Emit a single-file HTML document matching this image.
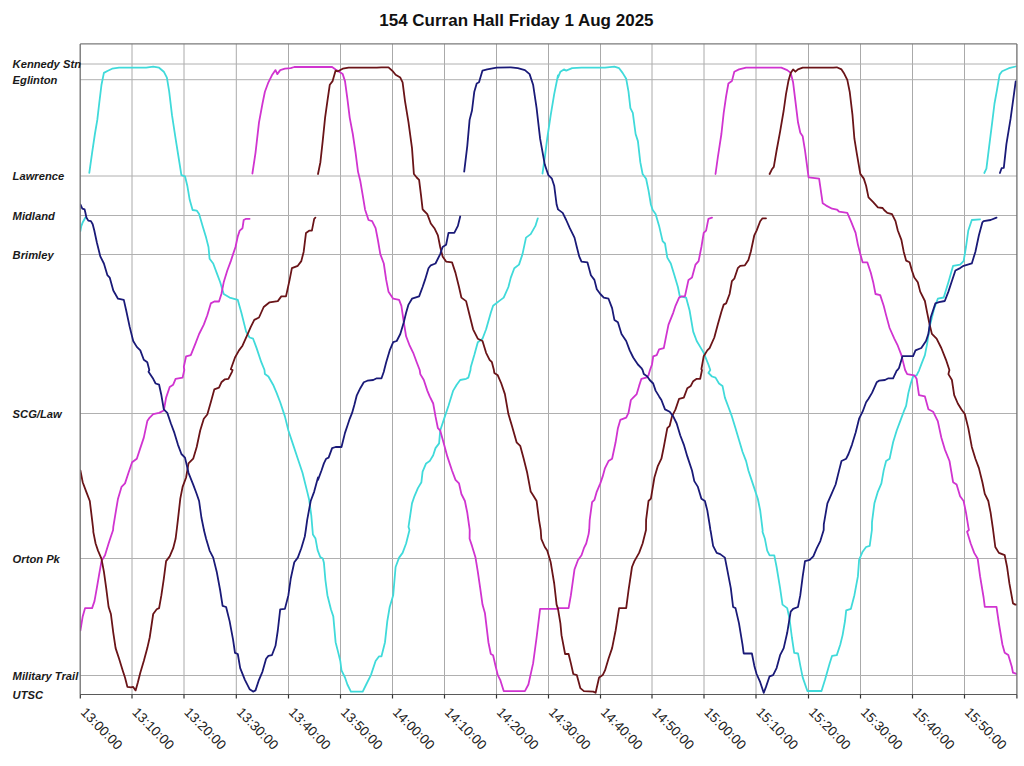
<!DOCTYPE html>
<html><head><meta charset="utf-8"><style>
html,body{margin:0;padding:0;background:#fff;}
svg{display:block;}
.lab{font-family:"Liberation Sans",sans-serif;font-weight:bold;font-style:italic;font-size:11.2px;fill:#1a1a1a;}
.tl{font-family:"Liberation Sans",sans-serif;font-size:13.5px;fill:#222;}
.title{font-family:"Liberation Sans",sans-serif;font-weight:bold;font-size:17px;fill:#111;}
</style></head><body>
<svg width="1024" height="766" viewBox="0 0 1024 766">
<rect x="0" y="0" width="1024" height="766" fill="#fff"/>
<line x1="132.00" y1="43.9" x2="132.00" y2="694.5" stroke="#aaa" stroke-width="1"/>
<line x1="184.00" y1="43.9" x2="184.00" y2="694.5" stroke="#aaa" stroke-width="1"/>
<line x1="236.30" y1="43.9" x2="236.30" y2="694.5" stroke="#aaa" stroke-width="1"/>
<line x1="288.50" y1="43.9" x2="288.50" y2="694.5" stroke="#aaa" stroke-width="1"/>
<line x1="340.50" y1="43.9" x2="340.50" y2="694.5" stroke="#aaa" stroke-width="1"/>
<line x1="392.50" y1="43.9" x2="392.50" y2="694.5" stroke="#aaa" stroke-width="1"/>
<line x1="444.50" y1="43.9" x2="444.50" y2="694.5" stroke="#aaa" stroke-width="1"/>
<line x1="496.50" y1="43.9" x2="496.50" y2="694.5" stroke="#aaa" stroke-width="1"/>
<line x1="548.50" y1="43.9" x2="548.50" y2="694.5" stroke="#aaa" stroke-width="1"/>
<line x1="600.50" y1="43.9" x2="600.50" y2="694.5" stroke="#aaa" stroke-width="1"/>
<line x1="652.00" y1="43.9" x2="652.00" y2="694.5" stroke="#aaa" stroke-width="1"/>
<line x1="704.00" y1="43.9" x2="704.00" y2="694.5" stroke="#aaa" stroke-width="1"/>
<line x1="756.00" y1="43.9" x2="756.00" y2="694.5" stroke="#aaa" stroke-width="1"/>
<line x1="808.50" y1="43.9" x2="808.50" y2="694.5" stroke="#aaa" stroke-width="1"/>
<line x1="860.50" y1="43.9" x2="860.50" y2="694.5" stroke="#aaa" stroke-width="1"/>
<line x1="912.50" y1="43.9" x2="912.50" y2="694.5" stroke="#aaa" stroke-width="1"/>
<line x1="964.50" y1="43.9" x2="964.50" y2="694.5" stroke="#aaa" stroke-width="1"/>
<line x1="80.2" y1="64.0" x2="1016.9" y2="64.0" stroke="#b0b0b0" stroke-width="1"/>
<line x1="80.2" y1="79.7" x2="1016.9" y2="79.7" stroke="#b0b0b0" stroke-width="1"/>
<line x1="80.2" y1="176.0" x2="1016.9" y2="176.0" stroke="#b0b0b0" stroke-width="1"/>
<line x1="80.2" y1="215.5" x2="1016.9" y2="215.5" stroke="#b0b0b0" stroke-width="1"/>
<line x1="80.2" y1="254.5" x2="1016.9" y2="254.5" stroke="#b0b0b0" stroke-width="1"/>
<line x1="80.2" y1="413.5" x2="1016.9" y2="413.5" stroke="#b0b0b0" stroke-width="1"/>
<line x1="80.2" y1="558.5" x2="1016.9" y2="558.5" stroke="#b0b0b0" stroke-width="1"/>
<line x1="80.2" y1="675.5" x2="1016.9" y2="675.5" stroke="#b0b0b0" stroke-width="1"/>
<clipPath id="pc"><rect x="80.2" y="43.9" width="936.7" height="650.6"/></clipPath><g clip-path="url(#pc)">
<path d="M80.4,231.0 L81.2,226.3 L82.8,222.2 L85.4,217.5" fill="none" stroke="#40dada" stroke-width="1.8" stroke-linejoin="round" stroke-linecap="round"/>
<path d="M89.3,172.8 L92.1,152.8 L94.9,134.0 L97.3,119.9 L99.2,103.5 L101.5,84.7 L103.9,72.9 L107.4,71.0 L112.1,68.7 L119.1,67.7 L132.1,67.7 L146.2,67.7 L153.2,66.6 L159.1,67.7 L163.8,71.7 L166.9,77.6 L169.2,91.7 L172.0,115.2 L175.6,138.7 L178.6,157.5 L181.4,175.2 L185.0,176.3 L187.3,185.7 L189.7,199.8 L192.6,210.0 L196.7,210.6 L199.1,214.1 L202.6,225.9 L206.1,237.6 L208.5,247.0 L209.6,258.8 L213.2,263.5 L216.7,272.9 L220.2,282.3 L223.7,294.0 L229.6,297.6 L237.8,299.9 L241.4,312.8 L246.1,331.6 L249.6,337.5 L253.1,338.7 L256.6,348.1 L261.3,362.2 L264.5,370.0 L264.9,374.1 L268.4,376.5 L273.1,384.7 L276.6,392.9 L280.2,402.3 L284.9,416.4 L288.4,430.5 L293.1,444.6 L297.8,458.7 L302.5,472.8 L307.2,491.6 L309.2,500.0 L311.3,515.7 L312.9,534.5 L315.5,538.6 L317.6,550.1 L320.2,556.9 L322.8,558.5 L323.9,562.7 L325.4,580.0 L327.4,595.2 L330.9,609.3 L333.3,616.4 L335.6,642.2 L338.0,651.6 L340.3,661.0 L341.5,670.4 L345.0,677.5 L347.4,684.5 L350.9,691.6 L362.7,691.6 L366.2,684.5 L370.9,675.1 L375.6,661.0 L379.1,656.3 L381.5,656.3 L385.0,642.2 L387.3,621.1 L389.7,607.0 L393.2,595.2 L395.6,567.0 L399.1,557.6 L402.6,552.9 L406.1,543.5 L409.5,530.0 L408.5,526.9 L412.0,503.4 L414.4,496.3 L417.9,488.1 L421.4,482.2 L422.6,471.7 L426.1,463.4 L429.7,461.1 L433.2,455.2 L435.5,448.1 L439.1,443.4 L440.2,430.5 L444.9,416.4 L448.5,405.8 L453.2,390.6 L456.7,384.7 L460.2,380.0 L466.1,378.8 L468.4,377.6 L470.5,370.0 L470.8,366.9 L474.3,355.1 L477.8,342.2 L482.5,338.7 L486.1,329.3 L490.8,312.8 L493.1,305.8 L499.0,301.1 L503.7,297.6 L508.4,287.0 L510.8,277.6 L514.3,268.2 L519.0,264.6 L522.5,254.1 L526.0,237.6 L530.7,234.1 L535.4,225.9 L537.8,218.3" fill="none" stroke="#40dada" stroke-width="1.8" stroke-linejoin="round" stroke-linecap="round"/>
<path d="M542.5,173.5 L544.8,157.5 L547.2,138.7 L550.7,115.2 L554.2,94.1 L558.0,75.3 L558.0,77.6 L560.4,71.7 L563.9,69.4 L566.2,70.6 L572.1,68.2 L581.5,67.7 L605.0,67.7 L614.4,66.6 L619.1,68.2 L622.6,72.9 L626.2,78.8 L628.5,91.7 L630.4,108.2 L632.8,112.9 L635.6,134.0 L637.9,141.1 L640.3,162.2 L642.6,174.0 L646.1,178.7 L648.5,190.4 L650.9,204.5 L652.7,210.0 L655.6,214.1 L659.1,225.9 L662.6,241.1 L665.0,243.5 L667.3,257.6 L670.8,263.5 L674.4,275.2 L677.9,287.0 L679.8,296.4 L686.1,297.6 L689.6,310.5 L693.2,331.6 L696.7,341.0 L700.2,346.9 L703.7,352.8 L708.4,364.5 L710.3,370.0 L708.4,372.9 L712.0,376.5 L715.5,377.6 L719.0,383.5 L722.5,385.9 L724.9,397.6 L728.4,407.0 L731.9,416.4 L735.5,428.2 L739.0,439.9 L742.5,451.7 L746.1,461.1 L748.4,470.5 L753.1,484.6 L757.8,498.7 L760.2,510.4 L762.5,529.2 L762.7,530.0 L762.5,531.8 L764.9,538.8 L767.2,550.6 L769.6,555.3 L774.3,555.3 L776.6,567.0 L780.1,588.2 L782.5,604.6 L787.2,608.1 L789.5,618.7 L791.9,637.5 L794.2,652.8 L798.0,653.5 L798.0,653.4 L800.3,665.7 L802.7,677.4 L807.4,691.0 L821.5,691.0 L825.0,679.8 L829.7,663.3 L832.1,655.8 L836.8,655.1 L840.3,644.5 L842.6,635.1 L845.0,621.0 L846.2,610.4 L850.9,608.8 L854.4,595.2 L857.9,576.4 L859.1,559.9 L862.6,551.7 L866.1,547.0 L869.7,545.8 L871.9,530.0 L872.0,522.1 L874.4,503.3 L877.9,491.6 L881.4,483.3 L883.7,470.4 L886.1,461.0 L889.6,458.7 L893.1,442.2 L896.7,430.5 L900.2,421.1 L903.7,411.7 L906.1,405.8 L908.4,392.9 L910.8,383.5 L913.1,376.4 L916.6,375.3 L919.0,370.6 L919.2,370.0 L921.3,364.4 L924.9,355.1 L927.2,343.3 L929.6,326.9 L934.3,308.1 L937.8,298.7 L943.7,297.5 L948.4,282.2 L953.1,265.8 L960.1,264.6 L963.6,261.1 L966.0,247.0 L968.3,230.5 L971.8,220.0 L980.1,219.3" fill="none" stroke="#40dada" stroke-width="1.8" stroke-linejoin="round" stroke-linecap="round"/>
<path d="M984.3,173.0 L986.4,168.7 L988.6,150.9 L992.0,123.8 L994.5,103.5 L997.0,89.9 L999.6,74.6 L1002.1,71.3 L1008.9,68.2 L1015.7,66.5" fill="none" stroke="#40dada" stroke-width="1.8" stroke-linejoin="round" stroke-linecap="round"/>
<path d="M80.4,630.5 L82.7,616.4 L85.1,608.1 L92.1,608.1 L94.5,601.1 L96.8,588.2 L99.2,574.1 L101.5,561.1 L105.0,555.3 L108.6,543.5 L110.9,536.5 L113.1,530.0 L113.3,526.9 L115.6,512.8 L118.0,498.7 L121.5,486.9 L125.0,483.4 L128.5,472.8 L132.1,462.3 L136.8,458.7 L140.3,448.1 L143.8,437.6 L147.3,421.1 L149.7,417.6 L153.2,414.1 L159.1,412.9 L163.8,410.5 L166.1,397.6 L169.7,387.0 L173.2,384.7 L175.6,378.8 L182.6,377.6 L184.3,370.0 L183.8,366.9 L186.1,356.3 L190.8,355.1 L195.5,343.4 L199.1,334.0 L203.8,324.6 L207.3,315.2 L210.8,303.4 L214.3,301.5 L219.0,301.5 L221.4,294.0 L223.7,282.3 L227.3,270.5 L230.8,261.1 L233.1,254.1 L235.5,247.0 L237.8,236.4 L239.7,230.6 L242.5,228.2 L243.7,220.0 L246.1,218.8 L249.6,218.8" fill="none" stroke="#d034d0" stroke-width="1.8" stroke-linejoin="round" stroke-linecap="round"/>
<path d="M252.4,173.5 L255.5,152.8 L259.0,122.3 L262.5,103.5 L264.9,91.7 L268.4,82.3 L271.9,75.3 L275.5,70.1 L277.3,74.1 L280.2,70.1 L284.9,68.7 L290.7,68.2 L294.3,67.0 L303.7,67.0 L318.0,67.0 L318.0,67.0 L332.1,67.0 L335.6,69.4 L339.2,71.7 L342.7,74.1 L345.0,81.1 L347.4,98.8 L349.7,117.6 L352.8,134.0 L355.6,152.8 L358.0,171.6 L360.3,181.0 L362.7,195.1 L365.0,209.2 L365.2,210.0 L368.5,220.0 L372.1,221.2 L375.6,228.2 L377.9,240.0 L380.3,254.1 L383.8,263.5 L386.2,279.9 L388.5,291.7 L393.2,298.7 L399.1,299.9 L401.4,305.8 L403.8,322.2 L406.1,336.3 L409.7,345.7 L413.2,352.8 L416.7,362.2 L419.7,370.0 L420.3,374.1 L423.8,380.0 L427.3,390.6 L429.7,396.4 L433.2,403.5 L435.5,416.4 L437.9,428.2 L440.2,430.5 L443.8,443.4 L447.3,456.4 L452.0,470.5 L455.5,479.9 L459.0,483.4 L461.4,494.0 L464.9,501.0 L467.3,512.8 L469.6,529.2 L469.7,530.0 L469.6,538.8 L472.0,545.9 L475.5,557.6 L477.8,571.7 L480.2,588.2 L482.5,604.6 L484.9,612.9 L488.4,642.2 L490.8,654.0 L493.1,655.2 L495.5,665.7 L497.8,675.1 L500.2,679.8 L503.7,691.1 L524.9,691.1 L528.4,684.5 L533.1,663.4 L536.6,637.5 L540.1,608.9 L558.0,608.9 L558.0,608.1 L568.6,608.1 L570.9,595.2 L574.5,569.4 L578.0,560.0 L581.5,555.3 L583.9,548.2 L586.2,543.5 L588.6,534.1 L589.2,530.0 L589.7,519.8 L592.1,502.2 L594.4,499.9 L596.8,491.6 L600.3,483.4 L602.7,476.4 L605.0,468.1 L608.5,461.1 L612.1,458.7 L615.6,442.3 L617.9,428.2 L620.3,419.9 L626.2,417.6 L628.5,412.9 L630.9,400.0 L633.2,397.6 L636.7,394.1 L639.1,385.9 L641.4,378.8 L646.1,377.6 L648.5,375.3 L650.0,370.0 L652.0,364.5 L653.2,356.3 L656.7,355.1 L659.1,349.3 L663.8,348.1 L666.1,336.3 L668.5,324.6 L673.2,312.8 L675.5,305.8 L679.1,297.6 L681.4,296.4 L684.9,296.4 L688.5,279.9 L692.0,277.6 L695.5,264.6 L698.6,261.1 L701.4,247.0 L703.7,232.9 L706.1,230.6 L708.4,218.8 L712.0,217.6" fill="none" stroke="#d034d0" stroke-width="1.8" stroke-linejoin="round" stroke-linecap="round"/>
<path d="M715.5,174.0 L717.8,157.5 L721.4,134.0 L723.7,112.9 L726.1,96.4 L728.4,83.5 L731.9,81.1 L734.3,71.7 L739.0,69.4 L746.1,67.7 L781.3,67.7 L787.2,70.1 L790.7,72.9 L793.1,82.3 L795.4,101.1 L798.0,122.3 L800.3,132.8 L802.7,136.3 L805.0,150.4 L808.6,177.4 L819.1,178.6 L822.7,203.3 L826.2,205.6 L832.1,208.7 L836.8,209.6 L837.4,210.0 L839.1,211.7 L847.3,212.9 L850.9,221.1 L855.6,232.9 L857.9,244.6 L860.3,254.0 L862.6,262.3 L867.3,262.3 L870.8,272.8 L873.2,282.2 L875.5,294.0 L880.2,295.1 L883.7,305.7 L886.1,315.1 L889.6,328.0 L894.3,338.6 L897.8,345.7 L901.4,355.1 L903.7,364.4 L905.1,370.0 L907.2,374.1 L914.3,375.3 L916.6,378.8 L919.0,395.2 L924.9,396.4 L928.4,409.3 L933.1,411.7 L937.8,421.1 L941.3,437.5 L944.8,449.3 L949.5,461.0 L953.1,482.2 L956.6,484.5 L960.1,496.3 L963.6,501.0 L966.0,512.7 L968.3,526.8 L968.9,530.0 L967.1,531.7 L970.7,543.5 L974.2,552.9 L977.7,558.8 L980.1,576.4 L983.6,597.5 L984.8,606.9 L996.5,606.9 L998.9,623.4 L1002.4,644.5 L1004.7,652.7 L1008.3,655.1 L1011.8,666.8 L1013.0,672.7 L1016.5,673.9" fill="none" stroke="#d034d0" stroke-width="1.8" stroke-linejoin="round" stroke-linecap="round"/>
<path d="M80.4,470.5 L82.7,482.2 L86.2,491.6 L89.8,501.0 L92.1,519.8 L93.3,530.0 L93.3,531.8 L95.6,543.5 L98.0,550.6 L101.5,558.8 L103.9,571.7 L106.2,588.2 L108.6,607.0 L110.9,614.0 L113.3,632.8 L115.6,648.1 L119.1,658.7 L122.7,670.4 L125.0,677.5 L127.4,686.9 L130.9,687.4 L133.2,686.9 L135.6,690.4 L137.9,682.2 L140.3,672.8 L143.8,661.0 L147.3,648.1 L149.7,637.5 L153.2,614.0 L156.7,609.3 L159.1,608.1 L161.4,595.2 L163.8,578.8 L166.1,561.1 L169.7,556.4 L173.2,548.2 L175.6,538.8 L176.7,530.0 L177.9,519.8 L180.3,498.7 L182.6,486.9 L186.1,477.5 L188.5,463.4 L193.2,458.7 L196.7,447.0 L200.2,430.5 L203.8,418.8 L207.3,414.5 L210.8,402.3 L214.3,389.4 L219.0,387.7 L221.4,382.3 L224.9,379.3 L228.4,378.8 L232.0,371.8 L232.6,370.0 L230.8,369.2 L235.0,357.5 L239.0,350.4 L242.5,345.7 L247.2,335.2 L250.8,326.9 L254.3,319.9 L259.0,317.5 L263.7,307.0 L269.6,302.3 L277.8,301.1 L281.3,296.4 L286.0,296.4 L289.6,279.9 L291.9,268.2 L297.8,265.8 L301.3,261.1 L303.7,251.7 L306.0,232.9 L309.5,230.6 L311.9,230.6 L314.2,218.8 L315.4,217.6" fill="none" stroke="#6a1418" stroke-width="1.8" stroke-linejoin="round" stroke-linecap="round"/>
<path d="M318.0,174.0 L320.4,162.2 L322.7,141.1 L325.1,117.6 L327.4,101.1 L329.8,84.7 L332.6,81.1 L335.6,70.6 L338.0,71.3 L342.7,68.7 L348.6,67.7 L376.8,67.7 L381.5,67.3 L388.5,67.3 L393.2,71.7 L395.6,74.8 L400.3,77.6 L402.6,82.3 L405.0,101.1 L408.5,122.3 L412.0,148.1 L413.9,174.0 L416.7,177.5 L419.1,179.9 L421.0,195.1 L422.6,209.2 L423.2,210.0 L427.3,214.1 L430.8,223.5 L434.4,228.2 L437.9,235.3 L440.2,247.0 L442.6,256.4 L446.1,261.6 L452.0,262.3 L455.5,272.9 L459.0,287.0 L461.4,297.6 L466.1,301.1 L469.6,315.2 L473.1,329.3 L477.8,338.7 L482.5,341.0 L486.1,352.8 L489.6,359.8 L491.9,362.2 L493.9,370.0 L494.3,372.9 L497.8,375.3 L501.3,383.5 L504.9,394.1 L508.4,414.1 L511.9,425.8 L516.6,442.3 L520.2,445.8 L523.7,458.7 L527.2,472.8 L530.7,491.6 L533.1,495.2 L536.6,501.0 L539.0,519.8 L540.7,530.0 L541.3,538.8 L544.8,547.0 L547.2,550.6 L550.7,562.3 L554.2,583.5 L556.6,604.6 L558.0,608.9 L558.0,608.9 L560.4,623.4 L561.5,635.2 L565.1,654.0 L568.6,654.0 L570.9,663.4 L573.3,674.0 L576.8,675.1 L580.3,688.1 L583.9,691.1 L593.3,691.6 L595.6,692.8 L599.1,677.5 L602.7,675.1 L605.0,670.4 L608.5,658.7 L612.1,648.1 L615.6,630.5 L619.1,608.1 L626.2,608.1 L628.5,590.5 L632.0,567.0 L634.4,561.1 L639.1,552.9 L642.6,543.5 L646.0,530.0 L646.1,519.8 L648.5,501.0 L650.9,498.7 L654.4,477.5 L657.9,465.8 L661.4,458.7 L663.8,447.0 L667.3,428.2 L669.7,425.8 L672.0,416.4 L675.5,409.4 L679.1,398.8 L683.8,397.6 L687.3,388.2 L690.8,385.9 L693.2,381.2 L696.7,378.8 L700.2,378.8 L702.0,370.0 L701.4,369.2 L703.7,356.3 L707.3,350.4 L709.6,348.1 L714.3,337.5 L717.8,324.6 L721.4,311.7 L723.7,304.6 L726.1,303.4 L729.6,294.0 L731.9,281.1 L734.3,278.7 L737.8,268.2 L740.2,265.8 L744.9,265.3 L748.4,259.9 L750.8,251.7 L754.3,235.3 L756.6,230.6 L760.2,221.2 L762.5,218.3 L766.0,218.3" fill="none" stroke="#6a1418" stroke-width="1.8" stroke-linejoin="round" stroke-linecap="round"/>
<path d="M769.6,174.0 L771.9,169.3 L773.8,166.9 L776.6,150.5 L780.1,131.7 L783.7,110.5 L786.0,94.1 L788.4,81.1 L790.7,72.9 L793.1,69.4 L795.4,71.7 L798.0,69.4 L798.0,69.4 L802.7,67.7 L812.1,67.7 L833.2,67.7 L836.8,67.3 L841.5,69.4 L843.8,72.9 L847.3,79.9 L849.7,91.7 L852.5,115.2 L854.4,138.7 L856.7,152.8 L860.3,173.9 L863.8,178.6 L866.1,185.7 L868.5,197.4 L873.2,202.1 L877.9,207.3 L882.6,208.0 L884.1,210.0 L887.3,212.9 L892.0,214.1 L895.5,221.1 L897.8,230.5 L901.4,239.9 L903.7,251.7 L906.1,260.6 L909.6,262.3 L911.9,270.5 L914.3,277.5 L917.8,282.2 L920.2,291.6 L924.9,301.0 L927.2,312.8 L929.6,324.5 L931.9,333.9 L936.6,338.6 L941.3,348.0 L946.0,359.8 L949.4,370.0 L948.4,374.1 L951.9,380.0 L954.2,395.2 L957.8,403.5 L961.3,409.3 L964.8,414.0 L968.3,428.1 L971.8,446.9 L975.4,458.7 L978.9,468.1 L982.4,482.2 L984.8,493.9 L988.3,501.0 L990.6,512.7 L993.0,529.1 L993.1,530.0 L995.3,547.0 L998.9,552.9 L1004.7,555.2 L1007.1,567.0 L1009.4,583.4 L1013.0,603.4 L1015.3,604.6 L1017.7,604.6" fill="none" stroke="#6a1418" stroke-width="1.8" stroke-linejoin="round" stroke-linecap="round"/>
<path d="M80.4,204.4 L82.3,208.6 L84.6,209.4 L85.4,212.8 L86.4,217.5 L88.3,220.6 L90.9,221.1 L92.7,224.2 L94.3,230.5 L96.8,242.3 L100.3,256.4 L103.9,263.5 L107.4,275.2 L109.7,277.6 L113.3,290.5 L118.0,298.7 L123.8,299.9 L126.2,310.5 L129.7,326.9 L133.2,341.0 L136.8,346.9 L140.3,350.4 L143.8,359.8 L147.3,362.2 L149.3,370.0 L148.5,371.8 L153.2,378.8 L155.6,383.5 L159.1,384.7 L161.4,395.3 L163.8,409.4 L167.3,412.9 L170.9,423.5 L174.4,432.9 L177.9,444.6 L181.4,454.0 L185.0,457.6 L188.5,472.8 L193.2,484.6 L196.7,494.0 L199.1,501.0 L201.4,517.5 L203.8,529.2 L203.9,530.0 L206.1,538.8 L209.6,550.6 L213.2,557.6 L216.7,571.7 L220.2,590.5 L222.6,605.8 L226.1,607.0 L229.6,621.1 L233.1,639.9 L235.0,652.8 L237.8,654.0 L240.2,668.1 L244.9,679.8 L249.6,689.2 L253.1,691.6 L255.5,690.4 L259.0,679.8 L262.5,671.6 L266.1,658.7 L268.4,655.9 L271.9,655.2 L275.5,645.8 L277.8,630.5 L280.2,609.3 L284.9,608.9 L288.4,595.2 L290.7,578.8 L294.3,562.3 L297.8,557.6 L301.3,548.2 L304.8,536.5 L305.8,530.0 L307.2,519.8 L310.7,501.0 L314.2,491.6 L318.0,477.5 L318.0,479.9 L321.5,470.5 L323.9,463.4 L326.2,458.7 L328.6,457.6 L332.1,448.1 L335.6,447.0 L341.5,447.0 L345.0,432.9 L347.4,425.8 L349.7,418.8 L352.1,412.9 L354.4,404.7 L356.8,395.3 L360.3,388.2 L363.8,382.3 L367.4,380.7 L373.2,380.0 L376.8,378.3 L381.5,378.3 L383.8,371.8 L384.2,370.0 L386.2,362.2 L389.7,350.4 L393.2,342.2 L396.7,341.0 L400.3,334.0 L403.8,322.2 L406.1,312.8 L408.5,304.6 L412.0,298.7 L419.1,296.4 L422.6,287.0 L425.0,279.9 L428.5,268.2 L430.8,265.3 L435.5,263.5 L440.2,254.1 L442.6,247.0 L446.1,244.7 L448.5,232.9 L454.3,232.9 L457.9,225.9 L460.2,216.5" fill="none" stroke="#1a1a78" stroke-width="1.8" stroke-linejoin="round" stroke-linecap="round"/>
<path d="M464.2,171.6 L467.3,145.8 L469.6,119.9 L472.0,110.5 L474.3,91.7 L476.7,83.5 L479.0,82.3 L482.5,70.6 L487.2,69.4 L496.6,67.7 L510.8,67.3 L517.8,68.2 L524.9,70.1 L529.6,74.1 L533.1,84.7 L536.6,108.2 L540.1,138.7 L544.8,164.6 L548.4,175.2 L551.9,178.7 L554.2,185.7 L556.6,204.5 L558.0,209.2 L558.0,209.4 L562.7,212.9 L566.2,220.0 L569.8,228.2 L574.5,237.6 L576.8,247.0 L579.2,256.4 L581.5,261.6 L587.4,262.3 L590.9,275.2 L594.4,279.9 L596.8,289.3 L600.3,294.0 L603.8,297.6 L608.5,298.7 L612.1,308.1 L614.4,319.9 L617.9,322.2 L621.5,334.0 L626.2,341.0 L629.7,350.4 L633.2,357.5 L637.9,364.5 L641.4,368.1 L642.6,370.0 L643.8,374.1 L647.3,376.5 L649.7,380.0 L653.2,383.5 L655.6,390.6 L659.1,396.4 L661.4,400.0 L665.0,409.4 L669.7,411.7 L673.2,416.4 L676.7,423.5 L680.2,435.2 L683.8,444.6 L687.3,456.4 L692.0,470.5 L694.3,481.1 L697.9,486.9 L701.4,498.7 L704.9,501.0 L707.3,510.4 L709.6,524.5 L710.4,530.0 L710.8,531.8 L713.1,545.9 L716.7,552.9 L720.2,554.1 L724.9,557.6 L727.2,569.4 L730.8,588.2 L733.1,607.0 L735.5,608.1 L739.0,623.4 L742.5,644.6 L743.7,653.5 L751.9,653.5 L754.3,665.7 L756.6,674.0 L760.2,682.2 L763.7,692.8 L766.0,686.9 L769.6,676.3 L773.1,675.1 L776.6,668.1 L780.1,655.2 L783.7,648.1 L787.2,632.8 L789.5,618.7 L790.7,611.7 L793.1,608.9 L798.0,607.0 L798.0,606.9 L800.3,595.2 L802.7,576.4 L805.0,561.1 L809.7,559.9 L813.3,556.4 L816.8,548.2 L820.3,541.1 L823.7,530.0 L823.8,524.4 L827.4,503.3 L832.1,492.7 L835.6,484.5 L839.1,470.4 L841.5,461.0 L846.2,458.7 L848.5,454.0 L852.0,444.6 L855.6,432.8 L859.1,418.7 L862.6,411.7 L866.1,402.3 L868.5,398.8 L872.0,392.9 L876.7,382.3 L879.0,380.7 L884.9,380.0 L888.4,378.3 L893.1,378.3 L896.7,370.6 L897.5,370.0 L899.0,368.0 L902.5,356.2 L913.1,356.2 L915.5,350.4 L921.3,348.0 L926.0,341.0 L928.4,333.9 L930.7,317.5 L935.4,303.4 L939.0,302.2 L944.8,301.0 L948.4,291.6 L951.9,281.0 L955.4,270.5 L960.1,268.1 L963.6,265.8 L971.8,263.4 L975.4,251.7 L978.9,235.2 L982.4,222.3 L983.6,221.1 L990.6,220.0 L996.5,217.6" fill="none" stroke="#1a1a78" stroke-width="1.8" stroke-linejoin="round" stroke-linecap="round"/>
<path d="M999.9,173.0 L1001.6,168.2 L1003.8,167.9 L1006.4,144.1 L1010.6,118.7 L1015.7,81.4" fill="none" stroke="#1a1a78" stroke-width="1.8" stroke-linejoin="round" stroke-linecap="round"/>
</g>
<line x1="80.2" y1="43.9" x2="1016.9" y2="43.9" stroke="#7a7a7a" stroke-width="1.2"/>
<line x1="80.2" y1="43.9" x2="80.2" y2="694.5" stroke="#6e6e6e" stroke-width="1.3"/>
<line x1="1016.9" y1="43.9" x2="1016.9" y2="694.5" stroke="#6e6e6e" stroke-width="1.3"/>
<line x1="80.2" y1="694.5" x2="1016.9" y2="694.5" stroke="#5a5a5a" stroke-width="1.2"/>
<line x1="80.30" y1="694.5" x2="80.30" y2="698.5" stroke="#333" stroke-width="1.2"/>
<line x1="132.00" y1="694.5" x2="132.00" y2="698.5" stroke="#333" stroke-width="1.2"/>
<line x1="184.00" y1="694.5" x2="184.00" y2="698.5" stroke="#333" stroke-width="1.2"/>
<line x1="236.30" y1="694.5" x2="236.30" y2="698.5" stroke="#333" stroke-width="1.2"/>
<line x1="288.50" y1="694.5" x2="288.50" y2="698.5" stroke="#333" stroke-width="1.2"/>
<line x1="340.50" y1="694.5" x2="340.50" y2="698.5" stroke="#333" stroke-width="1.2"/>
<line x1="392.50" y1="694.5" x2="392.50" y2="698.5" stroke="#333" stroke-width="1.2"/>
<line x1="444.50" y1="694.5" x2="444.50" y2="698.5" stroke="#333" stroke-width="1.2"/>
<line x1="496.50" y1="694.5" x2="496.50" y2="698.5" stroke="#333" stroke-width="1.2"/>
<line x1="548.50" y1="694.5" x2="548.50" y2="698.5" stroke="#333" stroke-width="1.2"/>
<line x1="600.50" y1="694.5" x2="600.50" y2="698.5" stroke="#333" stroke-width="1.2"/>
<line x1="652.00" y1="694.5" x2="652.00" y2="698.5" stroke="#333" stroke-width="1.2"/>
<line x1="704.00" y1="694.5" x2="704.00" y2="698.5" stroke="#333" stroke-width="1.2"/>
<line x1="756.00" y1="694.5" x2="756.00" y2="698.5" stroke="#333" stroke-width="1.2"/>
<line x1="808.50" y1="694.5" x2="808.50" y2="698.5" stroke="#333" stroke-width="1.2"/>
<line x1="860.50" y1="694.5" x2="860.50" y2="698.5" stroke="#333" stroke-width="1.2"/>
<line x1="912.50" y1="694.5" x2="912.50" y2="698.5" stroke="#333" stroke-width="1.2"/>
<line x1="964.50" y1="694.5" x2="964.50" y2="698.5" stroke="#333" stroke-width="1.2"/>
<line x1="1016.90" y1="694.5" x2="1016.90" y2="698.5" stroke="#333" stroke-width="1.2"/>
<text x="12.6" y="68.2" class="lab">Kennedy Stn</text>
<text x="12.6" y="83.9" class="lab">Eglinton</text>
<text x="12.6" y="180.2" class="lab">Lawrence</text>
<text x="12.6" y="219.7" class="lab">Midland</text>
<text x="12.6" y="258.7" class="lab">Brimley</text>
<text x="12.6" y="417.7" class="lab">SCG/Law</text>
<text x="12.6" y="562.7" class="lab">Orton Pk</text>
<text x="12.6" y="679.7" class="lab">Military Trail</text>
<text x="12.6" y="698.7" class="lab">UTSC</text>
<text class="tl" transform="translate(79.9,713.0) rotate(45.5)">13:00:00</text>
<text class="tl" transform="translate(131.6,713.0) rotate(45.5)">13:10:00</text>
<text class="tl" transform="translate(183.6,713.0) rotate(45.5)">13:20:00</text>
<text class="tl" transform="translate(235.9,713.0) rotate(45.5)">13:30:00</text>
<text class="tl" transform="translate(288.1,713.0) rotate(45.5)">13:40:00</text>
<text class="tl" transform="translate(340.1,713.0) rotate(45.5)">13:50:00</text>
<text class="tl" transform="translate(392.1,713.0) rotate(45.5)">14:00:00</text>
<text class="tl" transform="translate(444.1,713.0) rotate(45.5)">14:10:00</text>
<text class="tl" transform="translate(496.1,713.0) rotate(45.5)">14:20:00</text>
<text class="tl" transform="translate(548.1,713.0) rotate(45.5)">14:30:00</text>
<text class="tl" transform="translate(600.1,713.0) rotate(45.5)">14:40:00</text>
<text class="tl" transform="translate(651.6,713.0) rotate(45.5)">14:50:00</text>
<text class="tl" transform="translate(703.6,713.0) rotate(45.5)">15:00:00</text>
<text class="tl" transform="translate(755.6,713.0) rotate(45.5)">15:10:00</text>
<text class="tl" transform="translate(808.1,713.0) rotate(45.5)">15:20:00</text>
<text class="tl" transform="translate(860.1,713.0) rotate(45.5)">15:30:00</text>
<text class="tl" transform="translate(912.1,713.0) rotate(45.5)">15:40:00</text>
<text class="tl" transform="translate(964.1,713.0) rotate(45.5)">15:50:00</text>
<text class="title" x="516.4" y="26.3" text-anchor="middle">154 Curran Hall Friday 1 Aug 2025</text>
</svg></body></html>
